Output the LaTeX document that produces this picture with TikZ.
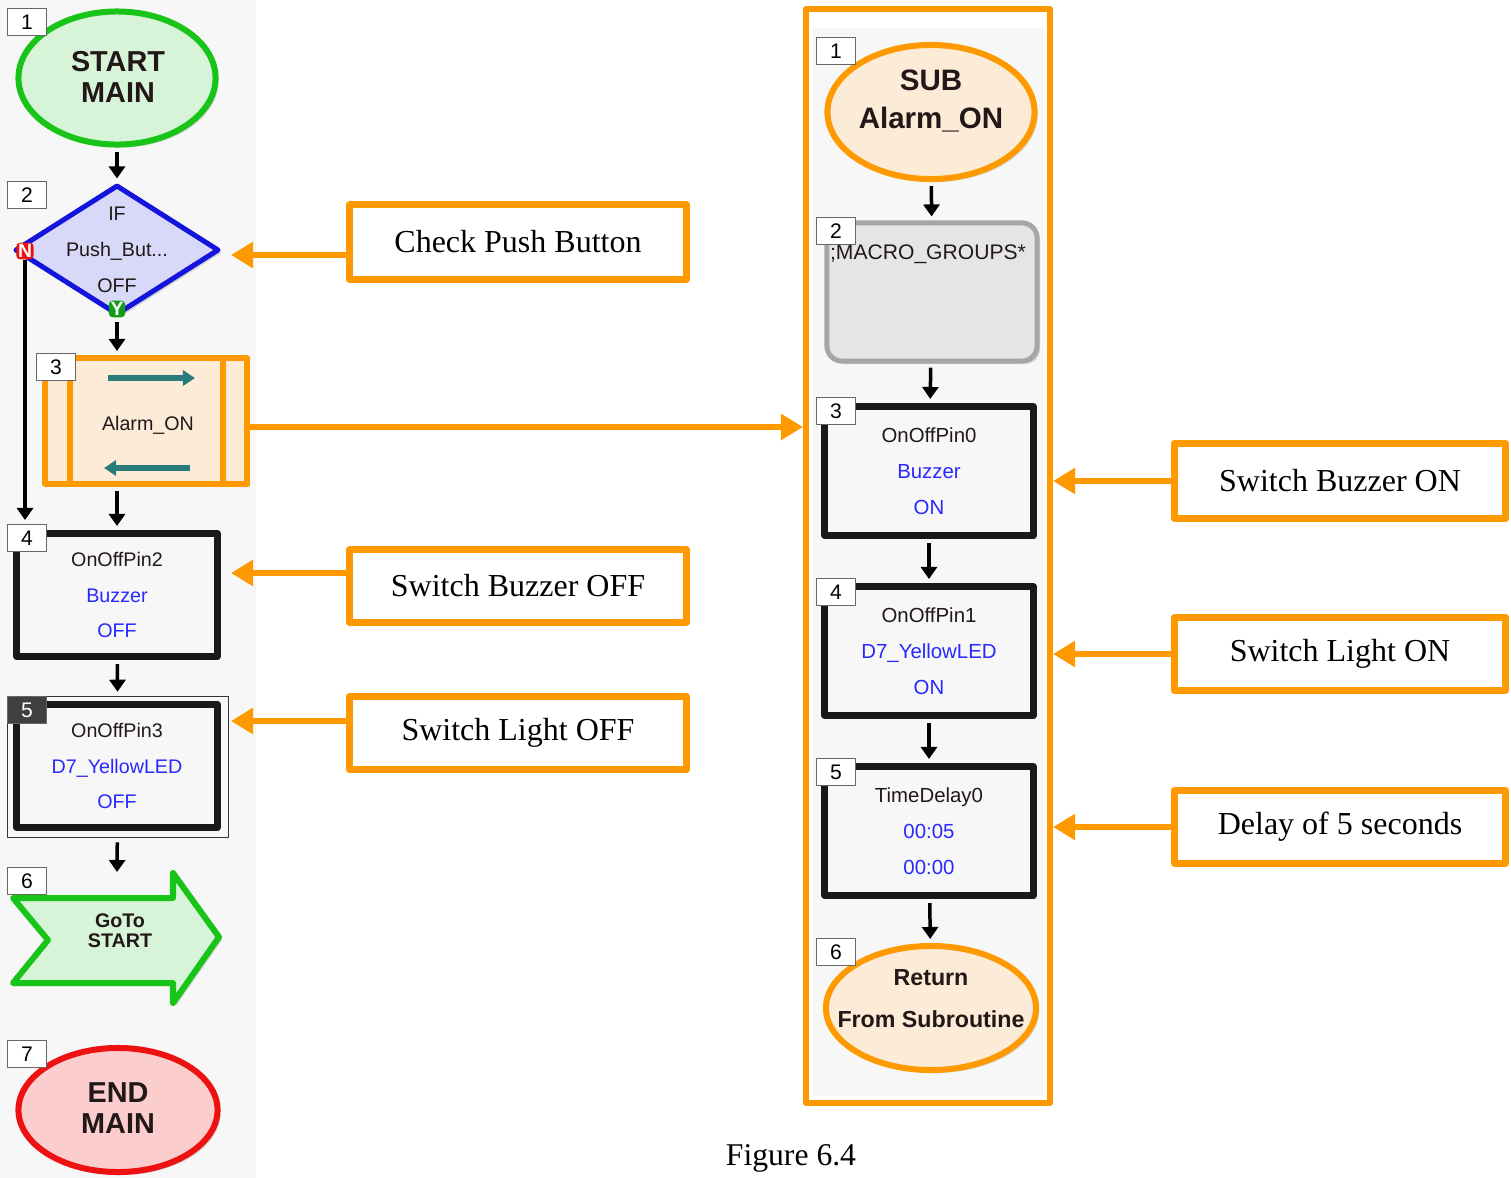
\documentclass[tikz,border=0pt]{standalone}
\usepackage{fontspec}
\setmainfont{Liberation Serif}
\setsansfont{Liberation Sans}
\usetikzlibrary{shapes.geometric,arrows.meta,shadows}

\definecolor{fcorange}{HTML}{FF9900}
\definecolor{fcgreen}{HTML}{19C419}
\definecolor{fcgreenfill}{HTML}{D8F4D8}
\definecolor{fcred}{HTML}{EE1111}
\definecolor{fcredfill}{HTML}{FBCDCD}
\definecolor{fcblue}{HTML}{1414DC}
\definecolor{fcbluefill}{HTML}{D8D8F8}
\definecolor{fcpeach}{HTML}{FCEBD6}
\definecolor{fcteal}{HTML}{2A7C7C}
\definecolor{fctext}{HTML}{221818}
\definecolor{fcval}{HTML}{2828FF}
\definecolor{fcback}{HTML}{F7F7F7}

\tikzset{
  fcshadow/.style={drop shadow={opacity=0.3, shadow xshift=0.03cm, shadow yshift=-0.03cm}},
  fctxt/.style={font=\sffamily\fontsize{5.6}{10}\selectfont, text=fctext, align=center},
  terminal/.style={ellipse, line width=0.06cm, fcshadow, inner sep=0pt},
  termtxt/.style={font=\sffamily\bfseries\fontsize{8.2}{8.6}\selectfont, text=fctext, align=center},
  decision/.style={diamond, draw=fcblue, fill=fcbluefill, line width=0.05cm, fcshadow,
    inner sep=0pt, minimum width=2.04cm, minimum height=1.30cm},
  action/.style={rectangle, draw=black!90, fill=fcback, line width=0.07cm, fcshadow,
    minimum width=2.0cm, minimum height=1.23cm, fctxt},
  macro/.style={rectangle, draw=fcorange, fill=fcpeach, line width=0.06cm, fcshadow,
    minimum width=2.02cm, minimum height=1.26cm, fctxt},
  comment/.style={rectangle, rounded corners=0.15cm, draw=black!35, fill=black!10,
    line width=0.05cm, fcshadow, minimum width=2.10cm, minimum height=1.38cm},
  numbox/.style={rectangle, draw=black!60, fill=white, line width=0.01cm, inner sep=0pt,
    minimum width=0.38cm, minimum height=0.27cm, font=\sffamily\fontsize{6}{6}\selectfont},
  marker/.style={rectangle, rounded corners=0.04cm, inner sep=0.5pt, text=white,
    font=\sffamily\bfseries\fontsize{5.5}{5.5}\selectfont},
  flow/.style={line width=0.035cm, -{Triangle[length=0.12cm, width=0.16cm]},
    shorten <=0.04cm, shorten >=0.04cm},
  tealarrow/.style={fcteal, line width=0.06cm, -{Triangle[length=0.12cm, width=0.15cm]}},
  note/.style={rectangle, draw=fcorange, fill=white, line width=0.07cm,
    font=\fontsize{9.1}{11}\selectfont},
  callout/.style={fcorange, line width=0.065cm, -{Triangle[length=0.22cm, width=0.25cm]}},
}

\begin{document}
\begin{tikzpicture}[x=0.01cm, y=-0.01cm, line join=round]
  \useasboundingbox (0,0) rectangle (1511,1178);
  \fill[fcback] (0,0) rectangle (256,1178);

  % main program
  \node[terminal, draw=fcgreen, fill=fcgreenfill, minimum width=1.97cm, minimum height=1.33cm]
    (startmain) at (117,78) {};
  \node[termtxt] (starttext) at (118,77) {START\\MAIN};
  \node[decision] (ifpush) at (117,250) {};
  \node[fctxt, font=\sffamily\fontsize{5.6}{10.2}\selectfont] (iftext) at (117,250) {IF\\Push\_But...\\OFF};
  \node[marker, fill=fcred] (nmark) at (25,251) {N};
  \node[marker, fill=fcgreen!80!black] (ymark) at (117,309) {Y};
  \node[macro] (alarmcall) at (146,421) {};
  \draw[fcorange, line width=0.05cm] (70,358) -- (70,484) (223,358) -- (223,484);
  \draw[tealarrow] (108,378) -- (195,378);
  \draw[tealarrow] (190,468) -- (104,468);
  \node[fctxt] (calltext) at (148,425) {Alarm\_ON};
  \node[action] (pin2) at (117,595) {OnOffPin2\\{\color{fcval}Buzzer}\\{\color{fcval}OFF}};
  \node[draw=black!80, line width=0.015cm, minimum width=2.21cm, minimum height=1.41cm] (selbox) at (118,767) {};
  \node[action] (pin3) at (117,766) {OnOffPin3\\{\color{fcval}D7\_YellowLED}\\{\color{fcval}OFF}};
  \draw[fcgreen, fill=fcgreenfill, line width=0.06cm, fcshadow]
    (13,898) -- (173,898) -- (173,873) -- (219,937) -- (173,1003) -- (173,983) -- (13,983) -- (48,940) -- cycle;
  \node[fctxt, font=\sffamily\bfseries\fontsize{5.6}{5.6}\selectfont] (gototext) at (120,931) {GoTo\\START};
  \coordinate (gotoin) at (117,872);
  \node[terminal, draw=fcred, fill=fcredfill, minimum width=1.99cm, minimum height=1.24cm]
    (endmain) at (118,1110) {};
  \node[termtxt] (endtext) at (118,1108) {END\\MAIN};

  \node[numbox] (n1) at (27,22) {1};
  \node[numbox] (n2) at (27,195) {2};
  \node[numbox] (n3) at (56,367) {3};
  \node[numbox] (n4) at (27,538) {4};
  \node[numbox, fill=black!75, text=white] (n5) at (27,710) {5};
  \node[numbox] (n6) at (27,881) {6};
  \node[numbox] (n7) at (27,1054) {7};

  \draw[flow] (startmain) -- (ifpush);
  \draw[flow] (ymark) -- (ymark |- alarmcall.north);
  \draw[flow] (pin2 |- alarmcall.south) -- (pin2);
  \draw[flow] (pin2) -- (selbox);
  \draw[flow, shorten >=0pt] (selbox) -- (gotoin);
  \draw[flow, shorten <=0pt] (nmark.south) -- (nmark.south |- n4.north);

  % subroutine
  \node[rectangle, draw=fcorange, fill=white, line width=0.06cm, minimum width=2.44cm,
    minimum height=10.94cm] (subframe) at (928,556) {};
  \fill[fcback] (813,28) rectangle (1045,1096);
  \node[terminal, draw=fcorange, fill=fcpeach, minimum width=2.07cm, minimum height=1.34cm]
    (subalarm) at (931,112) {};
  \node[termtxt, font=\sffamily\bfseries\fontsize{8.4}{10.8}\selectfont] (subtext) at (931,101) {SUB\\Alarm\_ON};
  \node[comment] (macrogrp) at (932,292) {};
  \node[fctxt, font=\sffamily\fontsize{6}{6}\selectfont] (grptext) at (928,254) {;MACRO\_GROUPS*};
  \node[action, minimum width=2.08cm, minimum height=1.29cm, font=\sffamily\fontsize{5.8}{10.3}\selectfont]
    (pin0) at (929,471) {OnOffPin0\\{\color{fcval}Buzzer}\\{\color{fcval}ON}};
  \node[action, minimum width=2.08cm, minimum height=1.29cm, font=\sffamily\fontsize{5.8}{10.3}\selectfont]
    (pin1) at (929,651) {OnOffPin1\\{\color{fcval}D7\_YellowLED}\\{\color{fcval}ON}};
  \node[action, minimum width=2.08cm, minimum height=1.29cm, font=\sffamily\fontsize{5.8}{10.3}\selectfont]
    (delay) at (929,831) {TimeDelay0\\{\color{fcval}00:05}\\{\color{fcval}00:00}};
  \node[terminal, draw=fcorange, fill=fcpeach, minimum width=2.10cm, minimum height=1.24cm]
    (subreturn) at (931,1008) {};
  \node[termtxt, font=\sffamily\bfseries\fontsize{6.6}{12}\selectfont] (rettext) at (931,999) {Return\\From Subroutine};

  \node[numbox] (m1) at (836,51) {1};
  \node[numbox] (m2) at (836,231) {2};
  \node[numbox] (m3) at (836,411) {3};
  \node[numbox] (m4) at (836,592) {4};
  \node[numbox] (m5) at (836,772) {5};
  \node[numbox] (m6) at (836,952) {6};

  \draw[flow] (subalarm) -- (macrogrp);
  \draw[flow] (macrogrp) -- (pin0);
  \draw[flow] (pin0) -- (pin1);
  \draw[flow] (pin1) -- (delay);
  \draw[flow] (delay) -- (subreturn);

  % notes
  \node[note, minimum width=3.37cm, minimum height=0.74cm] (chkbtn) at (518,242) {Check Push Button};
  \node[note, minimum width=3.37cm, minimum height=0.72cm] (bzoff) at (518,586) {Switch Buzzer OFF};
  \node[note, minimum width=3.37cm, minimum height=0.73cm] (ltoff) at (518,733) {Switch Light OFF};
  \node[note, minimum width=3.31cm, minimum height=0.75cm] (bzon) at (1340,481) {Switch Buzzer ON};
  \node[note, minimum width=3.31cm, minimum height=0.73cm] (lton) at (1340,654) {Switch Light ON};
  \node[note, minimum width=3.31cm, minimum height=0.73cm] (dly) at (1340,827) {Delay of 5 seconds};

  \coordinate (chktip) at (231,255);
  \coordinate (bzofftip) at (231,573);
  \coordinate (ltofftip) at (231,721);
  \coordinate (calltip) at (803,427);
  \draw[callout] (chkbtn.west |- chktip) -- (chktip);
  \draw[callout] (bzoff.west |- bzofftip) -- (bzofftip);
  \draw[callout] (ltoff.west |- ltofftip) -- (ltofftip);
  \draw[callout] (alarmcall.east |- calltip) -- (calltip);
  \draw[callout] (bzon.west) -- (bzon.west -| subframe.east);
  \draw[callout] (lton.west) -- (lton.west -| subframe.east);
  \draw[callout] (dly.west) -- (dly.west -| subframe.east);

  \node[font=\fontsize{9}{11}\selectfont] (caption) at (791,1158) {Figure 6.4};
\end{tikzpicture}
\end{document}
